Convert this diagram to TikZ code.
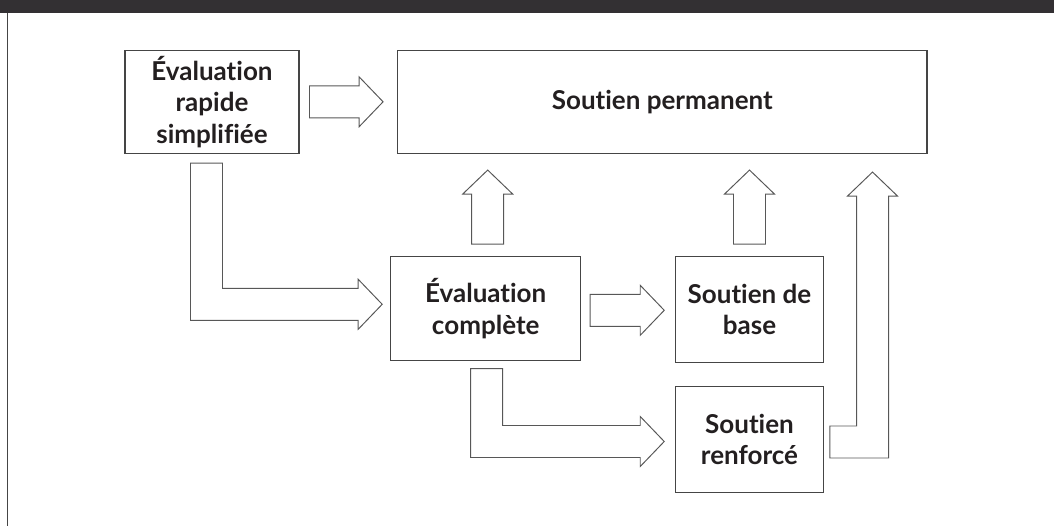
\documentclass[tikz,border=0pt]{standalone}
\usepackage{fontspec}
\setmainfont{Lato}[Ligatures=NoCommon]
\usetikzlibrary{calc}
\definecolor{bandgray}{HTML}{333033}
\definecolor{linegray}{HTML}{454545}
\definecolor{arrowgray}{HTML}{575757}
\definecolor{textgray}{HTML}{231F20}

\newcommand{\blockright}[2]{%
    \draw[blockarrow] ($(#1)+(0,-16)$) -- ($(#2 |- #1)+(-24,-16)$) -- ($(#2 |- #1)+(-24,-25)$) -- (#2 |- #1)
        -- ($(#2 |- #1)+(-24,25)$) -- ($(#2 |- #1)+(-24,16)$) -- ($(#1)+(0,16)$) -- cycle;}
\newcommand{\blockup}[2]{%
    \draw[blockarrow] ($(#1)+(-16,0)$) -- ($(#1 |- #2)+(-16,24)$) -- ($(#1 |- #2)+(-25,24)$) -- (#1 |- #2)
        -- ($(#1 |- #2)+(25,24)$) -- ($(#1 |- #2)+(16,24)$) -- ($(#1)+(16,0)$) -- cycle;}
\newcommand{\blockdownright}[2]{%
    \draw[blockarrow] ($(#1)+(-16,0)$) -- ($(#1)+(16,0)$) -- ($(#1 |- #2)+(16,-16)$) -- ($(#2)+(-24,-16)$)
        -- ($(#2)+(-24,-25)$) -- (#2) -- ($(#2)+(-24,25)$) -- ($(#2)+(-24,16)$) -- ($(#1 |- #2)+(-16,16)$) -- cycle;}
\newcommand{\blockrightup}[2]{%
    \draw[blockarrow] ($(#1)+(0,16)$) -- ($(#1)+(0,-16)$) -- ($(#2 |- #1)+(-16,-16)$) -- ($(#2)+(-16,24)$)
        -- ($(#2)+(-25,24)$) -- (#2) -- ($(#2)+(25,24)$) -- ($(#2)+(16,24)$) -- ($(#2 |- #1)+(16,16)$) -- cycle;}

\begin{document}
\begin{tikzpicture}[x=0.02cm,y=-0.02cm,
    boxnode/.style={draw=linegray,line width=0.6pt,inner sep=0pt,align=center,text=textgray,
        font=\fontsize{14.8}{18}\selectfont\bfseries},
    blockarrow/.style={draw=arrowgray,line width=0.55pt,line join=miter}]
            \useasboundingbox (0,0) rectangle (1054,526);
            \fill[bandgray] (0,0) rectangle (1054,13.5);
            \draw[linegray,line width=0.9pt] (7.5,13.5) -- (7.5,526);

            \node[boxnode,minimum width=3.48cm,minimum height=2.07cm] (rapid) at (212,101.8) {Évaluation\\rapide\\simplifiée};
            \node[boxnode,minimum width=10.59cm,minimum height=2.07cm] (perm) at (662.3,101.8) {Soutien permanent};
            \node[boxnode,minimum width=3.8cm,minimum height=2.07cm] (comp) at (485.7,308.3) {Évaluation\\complète};
            \node[boxnode,minimum width=2.95cm,minimum height=2.11cm] (base) at (749.5,309.5) {Soutien de\\base};
            \node[boxnode,minimum width=2.95cm,minimum height=2.11cm] (renf) at (749.5,439.5) {Soutien\\renforcé};

            \coordinate (r1) at ($(rapid.east)+(10,0)$);
            \coordinate (r2) at ($(perm.west)+(-14,0)$);
            \coordinate (c1) at ($(comp.east)+(9,2)$);
            \coordinate (c2) at ($(base.west)+(-11,0)$);
            \coordinate (u1) at ($(comp.north)+(2,-12)$);
            \coordinate (u2) at ($(perm.south)+(0,16)$);
            \coordinate (u3) at ($(base.north)+(0,-12)$);
            \coordinate (d1) at ($(rapid.south)+(-5.5,9)$);
            \coordinate (d2) at ($(comp.west)+(-8,-4)$);
            \coordinate (d3) at ($(comp.south)+(1,8)$);
            \coordinate (d4) at ($(renf.west)+(-11,2)$);
            \coordinate (k1) at ($(renf.east)+(6,2.5)$);
            \coordinate (k2) at ($(perm.south east)+(-55,18)$);

            \blockright{r1}{r2}
            \blockright{c1}{c2}
            \blockup{u1}{u2}
            \blockup{u3}{u2}
            \blockdownright{d1}{d2}
            \blockdownright{d3}{d4}
            \blockrightup{k1}{k2}
\end{tikzpicture}
\end{document}
